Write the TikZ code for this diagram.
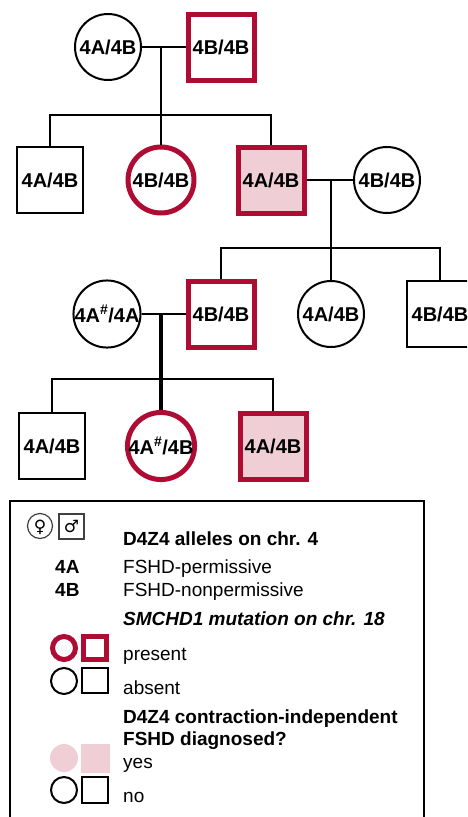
\documentclass[tikz,border=0pt]{standalone}
\usepackage{fontspec}
\setmainfont{Liberation Sans}
\newfontfamily\symfont{DejaVu Sans}
\definecolor{fred}{RGB}{175,12,52}
\definecolor{fpink}{RGB}{239,206,214}
\begin{document}
\begin{tikzpicture}[x=1pt,y=-1pt,
  person/.style={minimum size=66pt, inner sep=0pt, font=\fontsize{20}{24}\selectfont\bfseries, line width=2pt, draw=black},
  fem/.style={person, circle},
  mal/.style={person, rectangle},
  mut/.style={draw=fred, line width=5pt},
  aff/.style={fill=fpink},
  link/.style={line width=2.5pt},
  leg/.style={anchor=base west, inner sep=0pt, font=\fontsize{19}{22}\selectfont},
  legb/.style={leg, font=\fontsize{19}{22}\selectfont\bfseries},
  smallsym/.style={line width=2pt},
]
\useasboundingbox (0,0) rectangle (467,817);
\clip (0,0) rectangle (467,817);
\fill[white] (0,0) rectangle (467,817);

% generation 1
\node[fem] (a1) at (108,47) {4A/4B};
\node[mal,mut] (a2) at (221,47) {4B/4B};
\coordinate (j1) at (161,47);
\coordinate (s1) at (161,115);
% generation 2
\node[mal] (b1) at (50,180) {4A/4B};
\node[fem,mut] (b2) at (161,180) {4B/4B};
\node[mal,mut,aff] (b3) at (271,180) {4A/4B};
\node[fem] (b4) at (387,180) {4B/4B};
\coordinate (j2) at (331,180);
\coordinate (s2) at (331,248);
% generation 3
\node[fem] (c0) at (107,314) {4A\textsuperscript{\#}/4A};
\node[mal,mut] (c1) at (221,314) {4B/4B};
\node[fem] (c2) at (331,314) {4A/4B};
\node[mal] (c3) at (440,314) {4B/4B};
\coordinate (j3) at (161,314);
\coordinate (s3) at (161,379);
% generation 4
\node[mal] (d1) at (52,446) {4A/4B};
\node[fem,mut] (d2) at (161,446) {4A\textsuperscript{\#}/4B};
\node[mal,mut,aff] (d3) at (273,446) {4A/4B};

% connectors
\draw[link] (a1.east) -- (a2.west);
\draw[link] (j1) -- (b2.north);
\draw[link] (b1.north) |- (s1) -| (b3.north);
\draw[link] (b3.east) -- (b4.west);
\draw[link] (j2) -- (c2.north);
\draw[link] (c1.north) |- (s2) -| (c3.north);
\draw[link] (c0.east) -- (c1.west);
\draw[link, line width=3.2pt] (j3) -- (d2.north);
\draw[link] (d1.north) |- (s3) -| (d3.north);

% legend box
\draw[line width=2pt] (10,830) -- (10,501) -- (424,501) -- (424,830);
\draw[line width=1.2pt, draw=black!75] (40,526) circle[radius=12.5];
\node[inner sep=0pt, font=\symfont\fontsize{17}{17}\selectfont] (fs) at (40,527) {♀};
\draw[line width=1.2pt, draw=black!75] (59,514) rectangle (84,539);
\node[inner sep=0pt, font=\symfont\fontsize{17}{17}\selectfont] (ms) at (71.5,526) {♂};

\node[legb] (t1) at (123,545) {D4Z4 alleles on chr. 4};
\node[legb] (k1) at (55,573) {4A};
\node[leg] (t2) at (123,573) {FSHD-permissive};
\node[legb] (k2) at (55,596) {4B};
\node[leg] (t3) at (123,596) {FSHD-nonpermissive};
\node[leg, font=\fontsize{19}{22}\selectfont\bfseries\itshape] (t4) at (123,625) {SMCHD1 mutation on chr. 18};

\draw[draw=fred, line width=5pt] (64,648) circle[radius=11.5];
\draw[draw=fred, line width=5pt] (83.5,636.5) rectangle (106.5,659.5);
\node[leg] (t5) at (123,660) {present};
\draw[smallsym] (64,681) circle[radius=13];
\draw[smallsym] (82,668) rectangle (108,693);
\node[leg] (t6) at (123,694) {absent};

\node[legb] (t7) at (123,723) {D4Z4 contraction-independent};
\node[legb] (t8) at (123,745) {FSHD diagnosed?};
\fill[fpink] (64,758) circle[radius=14];
\fill[fpink] (81,744) rectangle (110,773);
\node[leg] (t9) at (123,768) {yes};
\draw[smallsym] (64,790) circle[radius=13];
\draw[smallsym] (82,777) rectangle (108,803);
\node[leg] (t10) at (123,802) {no};
\end{tikzpicture}
\end{document}
